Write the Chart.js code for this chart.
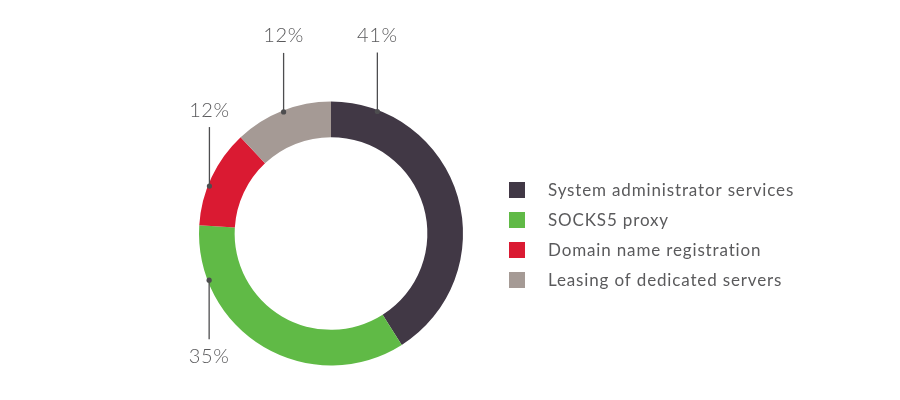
<!DOCTYPE html>
<html>
<head>
<meta charset="utf-8">
<script src="https://cdn.jsdelivr.net/npm/chart.js@4.4.1/dist/chart.umd.min.js"></script>
<style>
    html, body { margin: 0; padding: 0; background: #ffffff; }
    #wrap { width: 900px; height: 400px; }
</style>
</head>
<body>
<div id="wrap"><canvas id="serviceChart" width="900" height="400"></canvas></div>
<script>
const categories = [
    'System administrator services',
    'SOCKS5 proxy',
    'Domain name registration',
    'Leasing of dedicated servers'
];
const shares = [41, 35, 12, 12];
const percentLabels = ['41%', '35%', '12%', '12%'];
const sliceColors = ['#413845', '#60ba46', '#da1a32', '#a59a95'];

// where the leader dot sits inside each arc (0..1) and which way the line goes
const leaderSpots = [0.141, 0.805, 0.41, 0.507];
const leaderDirs = [-1, 1, -1, -1];

const textColor = '#5a5a5c';
const fontFamily = 'Lato, "Open Sans", sans-serif';

const leaderPlugin = {
    id: 'leaders',
    afterDatasetsDraw(chart) {
        const ctx = chart.ctx;
        const meta = chart.getDatasetMeta(0);
        ctx.save();
        meta.data.forEach((arc, i) => {
            const p = arc.getProps(['x', 'y', 'startAngle', 'endAngle', 'outerRadius'], true);
            const a = p.startAngle + (p.endAngle - p.startAngle) * leaderSpots[i];
            const r = p.outerRadius - 1.5;
            const dx = p.x + Math.cos(a) * r;
            const dy = p.y + Math.sin(a) * r;
            const dir = leaderDirs[i];
            const endY = dy + dir * 59;

            ctx.strokeStyle = '#4d4d4f';
            ctx.lineWidth = 1.3;
            ctx.beginPath();
            ctx.moveTo(dx, dy);
            ctx.lineTo(dx, endY);
            ctx.stroke();

            ctx.fillStyle = '#4d4d4f';
            ctx.beginPath();
            ctx.arc(dx, dy, 2.6, 0, Math.PI * 2);
            ctx.fill();

            ctx.fillStyle = textColor;
            ctx.font = '300 20px ' + fontFamily;
            ctx.letterSpacing = '0.6px';
            ctx.textAlign = 'center';
            ctx.textBaseline = 'middle';
            ctx.fillText(percentLabels[i], dx, endY + dir * 17);
        });
        ctx.restore();
    }
};

const legendPlugin = {
    id: 'sideLegend',
    afterDraw(chart) {
        const ctx = chart.ctx;
        const labels = chart.data.labels;
        const colors = chart.data.datasets[0].backgroundColor;
        ctx.save();
        labels.forEach((label, i) => {
            const y = 190 + i * 30;
            ctx.fillStyle = colors[i];
            ctx.fillRect(509, y - 8, 16, 16);
            ctx.fillStyle = textColor;
            ctx.font = '17px ' + fontFamily;
            ctx.letterSpacing = '0.85px';
            ctx.textAlign = 'left';
            ctx.textBaseline = 'middle';
            ctx.fillText(label, 548, y + 1);
        });
        ctx.restore();
    }
};

const ctx = document.getElementById('serviceChart').getContext('2d');

new Chart(ctx, {
    type: 'doughnut',
    data: {
        labels: categories,
        datasets: [{
            data: shares,
            backgroundColor: sliceColors,
            borderWidth: 0
        }]
    },
    options: {
        responsive: false,
        animation: false,
        cutout: '73%',
        layout: {
            padding: { left: 199, right: 437, top: 101, bottom: 34 }
        },
        plugins: {
            legend: { display: false },
            tooltip: { enabled: false }
        }
    },
    plugins: [leaderPlugin, legendPlugin]
});
</script>
</body>
</html>
